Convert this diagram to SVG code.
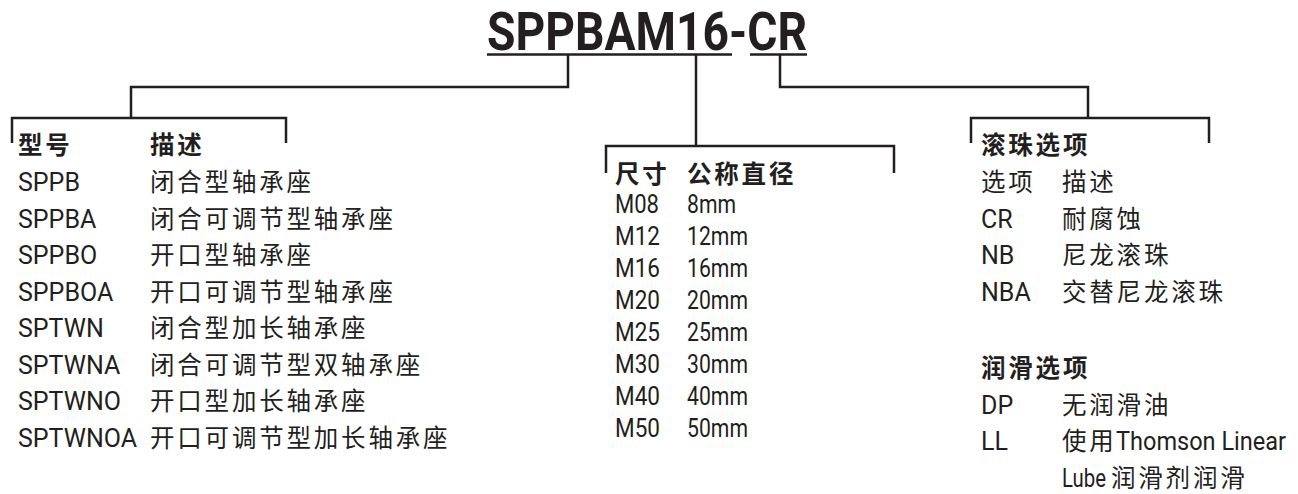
<svg xmlns="http://www.w3.org/2000/svg" width="1298" height="494" viewBox="0 0 1298 494">
<style>
  .bg { fill: #ffffff; }
  .ln { fill: none; stroke: #231f20; stroke-width: 2.5; stroke-linejoin: miter; stroke-linecap: butt; }
  .t { font-family: Roboto, "Noto Sans CJK SC", sans-serif; font-size: 25px; fill: #231f20; }
  .cj { font-family: "Noto Sans CJK SC", sans-serif; font-size: 24.5px; letter-spacing: 2.8px; fill: #231f20; }
  .hd { font-family: "Noto Sans CJK SC", sans-serif; font-size: 24.5px; letter-spacing: 2.8px; font-weight: bold; fill: #231f20; }
  .title { font-family: Roboto, sans-serif; font-size: 54px; font-weight: bold; fill: #231f20; }
</style>
<rect class="bg" x="0" y="0" width="1298" height="494"/>

<g id="title">
  <text class="title" x="487" y="50" textLength="320" lengthAdjust="spacingAndGlyphs">SPPBAM16-CR</text>
  <line class="ln" x1="487" y1="54.5" x2="732" y2="54.5"/>
  <line class="ln" x1="750" y1="54.5" x2="807" y2="54.5"/>
</g>

<g id="connectors">
  <path class="ln" d="M568 55 V87 H131 V118"/>
  <path class="ln" d="M12 143 V118 H286 V143"/>
  <path class="ln" d="M696 55 V146"/>
  <path class="ln" d="M606 173 V146 H894 V173"/>
  <path class="ln" d="M780 55 V87 H1088 V118"/>
  <path class="ln" d="M971 143 V118 H1209 V143"/>
</g>

<g id="models">
  <text class="hd" x="18" y="154">型号</text>
  <text class="hd" x="150" y="154">描述</text>
  <text class="t" x="18" y="191">SPPB</text>
  <text class="cj" x="150" y="191">闭合型轴承座</text>
  <text class="t" x="18" y="227.5">SPPBA</text>
  <text class="cj" x="150" y="227.5">闭合可调节型轴承座</text>
  <text class="t" x="18" y="264">SPPBO</text>
  <text class="cj" x="150" y="264">开口型轴承座</text>
  <text class="t" x="18" y="300.5">SPPBOA</text>
  <text class="cj" x="150" y="300.5">开口可调节型轴承座</text>
  <text class="t" x="18" y="337">SPTWN</text>
  <text class="cj" x="150" y="337">闭合型加长轴承座</text>
  <text class="t" x="18" y="373.5">SPTWNA</text>
  <text class="cj" x="150" y="373.5">闭合可调节型双轴承座</text>
  <text class="t" x="18" y="410">SPTWNO</text>
  <text class="cj" x="150" y="410">开口型加长轴承座</text>
  <text class="t" x="18" y="446.5">SPTWNOA</text>
  <text class="cj" x="150" y="446.5">开口可调节型加长轴承座</text>
</g>

<g id="sizes">
  <text class="hd" x="615" y="183">尺寸</text>
  <text class="hd" x="687" y="183">公称直径</text>
  <text class="t" x="615" y="213" textLength="44" lengthAdjust="spacingAndGlyphs">M08</text>
  <text class="t" x="687" y="213" textLength="49" lengthAdjust="spacingAndGlyphs">8mm</text>
  <text class="t" x="615" y="245" textLength="45" lengthAdjust="spacingAndGlyphs">M12</text>
  <text class="t" x="687" y="245" textLength="61" lengthAdjust="spacingAndGlyphs">12mm</text>
  <text class="t" x="615" y="277" textLength="45" lengthAdjust="spacingAndGlyphs">M16</text>
  <text class="t" x="687" y="277" textLength="61" lengthAdjust="spacingAndGlyphs">16mm</text>
  <text class="t" x="615" y="309" textLength="45" lengthAdjust="spacingAndGlyphs">M20</text>
  <text class="t" x="687" y="309" textLength="61" lengthAdjust="spacingAndGlyphs">20mm</text>
  <text class="t" x="615" y="341" textLength="45" lengthAdjust="spacingAndGlyphs">M25</text>
  <text class="t" x="687" y="341" textLength="61" lengthAdjust="spacingAndGlyphs">25mm</text>
  <text class="t" x="615" y="373" textLength="45" lengthAdjust="spacingAndGlyphs">M30</text>
  <text class="t" x="687" y="373" textLength="61" lengthAdjust="spacingAndGlyphs">30mm</text>
  <text class="t" x="615" y="405" textLength="45" lengthAdjust="spacingAndGlyphs">M40</text>
  <text class="t" x="687" y="405" textLength="61" lengthAdjust="spacingAndGlyphs">40mm</text>
  <text class="t" x="615" y="437" textLength="45" lengthAdjust="spacingAndGlyphs">M50</text>
  <text class="t" x="687" y="437" textLength="61" lengthAdjust="spacingAndGlyphs">50mm</text>
</g>

<g id="options">
  <text class="hd" x="981" y="154">滚珠选项</text>
  <text class="cj" x="981" y="191">选项</text>
  <text class="cj" x="1062" y="191">描述</text>
  <text class="t" x="981" y="227.5">CR</text>
  <text class="cj" x="1062" y="227.5">耐腐蚀</text>
  <text class="t" x="981" y="264">NB</text>
  <text class="cj" x="1062" y="264">尼龙滚珠</text>
  <text class="t" x="981" y="300.5">NBA</text>
  <text class="cj" x="1062" y="300.5">交替尼龙滚珠</text>
  <text class="hd" x="981" y="377">润滑选项</text>
  <text class="t" x="981" y="413.5">DP</text>
  <text class="cj" x="1062" y="413.5">无润滑油</text>
  <text class="t" x="981" y="450">LL</text>
  <text class="cj" x="1062" y="450">使用<tspan class="t" x="1116" letter-spacing="0" textLength="170" lengthAdjust="spacingAndGlyphs">Thomson Linear</tspan></text>
  <text class="t" x="1062" y="486.5"><tspan textLength="44" lengthAdjust="spacingAndGlyphs">Lube</tspan><tspan class="cj" x="1111">润滑剂润滑</tspan></text>
</g>
</svg>
